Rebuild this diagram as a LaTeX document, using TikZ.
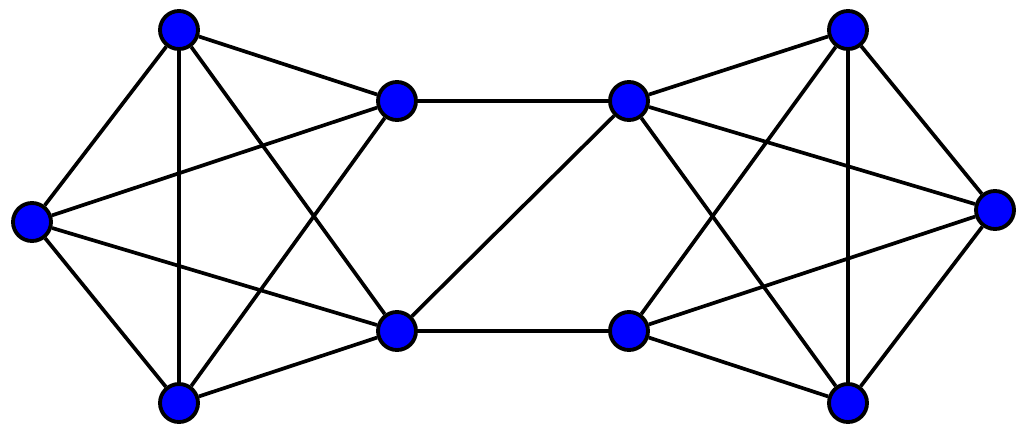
\documentclass[tikz,border=0pt]{standalone}
\begin{document}
\begin{tikzpicture}[x=0.02cm, y=-0.02cm,
  vertex/.style={circle, fill=blue, draw=black, line width=2.2pt, minimum size=0.76cm, inner sep=0pt},
  edge/.style={black, line width=2.1pt}]

\useasboundingbox (0,0) rectangle (1024,433);

% 左边的块
\node[vertex] (lt) at (179,30) {};
\node[vertex] (ll) at (32,222) {};
\node[vertex] (lb) at (179,403) {};
\node[vertex] (la) at (397,101) {};
\node[vertex] (lc) at (397,331) {};

% 右边的块
\node[vertex] (rt) at (848,30) {};
\node[vertex] (rr) at (995,210) {};
\node[vertex] (rb) at (848,403) {};
\node[vertex] (ra) at (629,101) {};
\node[vertex] (rc) at (629,331) {};

\draw[edge] (lt) -- (ll);
\draw[edge] (lt) -- (lb);
\draw[edge] (lt) -- (la);
\draw[edge] (lt) -- (lc);
\draw[edge] (ll) -- (la);
\draw[edge] (ll) -- (lc);
\draw[edge] (ll) -- (lb);
\draw[edge] (lb) -- (la);
\draw[edge] (lb) -- (lc);

\draw[edge] (rt) -- (rr);
\draw[edge] (rt) -- (rb);
\draw[edge] (rt) -- (ra);
\draw[edge] (rt) -- (rc);
\draw[edge] (rr) -- (ra);
\draw[edge] (rr) -- (rc);
\draw[edge] (rr) -- (rb);
\draw[edge] (rb) -- (ra);
\draw[edge] (rb) -- (rc);

% 中间的连线
\draw[edge] (la) -- (ra);
\draw[edge] (lc) -- (rc);
\draw[edge] (lc) -- (ra);

\end{tikzpicture}
\end{document}
